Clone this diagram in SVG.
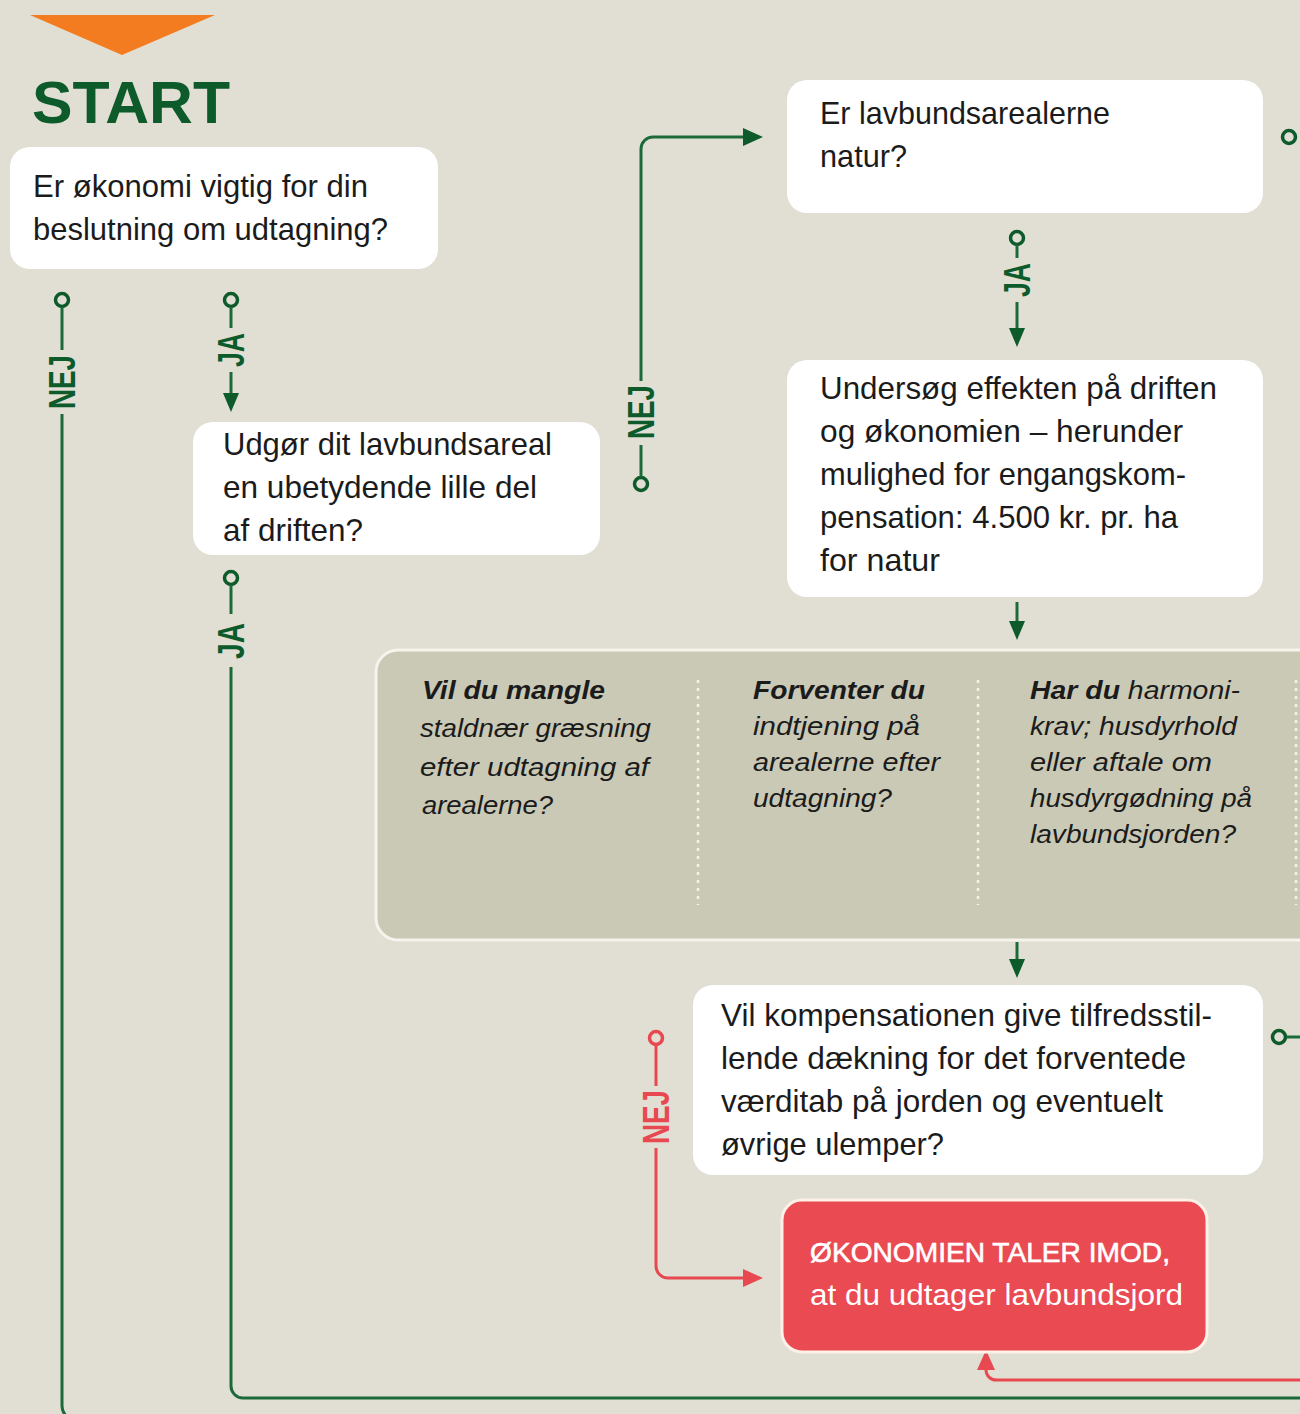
<svg xmlns="http://www.w3.org/2000/svg" width="1300" height="1414" viewBox="0 0 1300 1414">
<style>
.t{font-family:"Liberation Sans",Arial,sans-serif;font-size:32px;fill:#1b1b1b}
.g{font-family:"Liberation Sans",Arial,sans-serif;font-size:26px;font-style:italic;fill:#1b1b1b}
.b{font-weight:bold}
.lbl{font-family:"Liberation Sans",Arial,sans-serif;font-size:36px;font-weight:bold;fill:#0d5a2b}
.lblr{font-family:"Liberation Sans",Arial,sans-serif;font-size:36px;font-weight:bold;fill:#e84850}
.box{fill:#ffffff}
.ln{fill:none;stroke:#1c6a3a;stroke-width:3}
.lnr{fill:none;stroke:#e84850;stroke-width:3}
.dot{fill:#e1dfd3;stroke:#0d5a2b;stroke-width:3.5}
.dotr{fill:#e1dfd3;stroke:#e84850;stroke-width:3.5}
.ah{fill:#0d5a2b}
.ahr{fill:#e84850}
.div{stroke:#f4f2ea;stroke-width:2.5;stroke-dasharray:3 5}
</style>
<rect x="0" y="0" width="1300" height="1414" fill="#e1dfd3"/>

<g id="start">
<polygon points="30,15 215,15 122,55" fill="#f47c20"/>
<text x="32" y="123" font-family="Liberation Sans,Arial,sans-serif" font-size="60" font-weight="bold" fill="#0d5a2b" textLength="198" lengthAdjust="spacingAndGlyphs">START</text>
</g>

<g id="connectors">
<!-- NEJ left -->
<circle class="dot" cx="62" cy="300" r="6.5"/>
<path class="ln" d="M62,307 V350"/>
<path class="ln" d="M62,414 V1406 A14,14 0 0 0 76,1420 H1300"/>
<!-- JA to box2 -->
<circle class="dot" cx="231" cy="300" r="6.5"/>
<path class="ln" d="M231,307 V328"/>
<path class="ln" d="M231,372 V396"/>
<polygon class="ah" points="223,393 239,393 231,412"/>
<!-- JA from box2 down -->
<circle class="dot" cx="231" cy="578" r="6.5"/>
<path class="ln" d="M231,585 V614"/>
<path class="ln" d="M231,667 V1386 A12,12 0 0 0 243,1398 H1300"/>
<!-- NEJ from box2 to box3 -->
<circle class="dot" cx="641" cy="484" r="6.5"/>
<path class="ln" d="M641,477 V445"/>
<path class="ln" d="M641,381 V149 A12,12 0 0 1 653,137 H746"/>
<polygon class="ah" points="743,128 763,137 743,146"/>
<!-- right of box3 -->
<circle class="dot" cx="1289" cy="137" r="6.5"/>
<!-- JA from box3 -->
<circle class="dot" cx="1017" cy="238" r="6.5"/>
<path class="ln" d="M1017,245 V258"/>
<path class="ln" d="M1017,302 V331"/>
<polygon class="ah" points="1009,328 1025,328 1017,347"/>
<!-- box4 to grey -->
<path class="ln" d="M1017,602 V624"/>
<polygon class="ah" points="1009,621 1025,621 1017,640"/>
<!-- grey to box5 -->
<path class="ln" d="M1017,942 V962"/>
<polygon class="ah" points="1009,959 1025,959 1017,978"/>
<!-- right of box5 -->
<circle class="dot" cx="1279" cy="1037" r="6.5"/>
<path class="ln" d="M1286,1037 H1300"/>
<!-- red NEJ -->
<circle class="dotr" cx="656" cy="1038" r="6.5"/>
<path class="lnr" d="M656,1045 V1086"/>
<path class="lnr" d="M656,1148 V1266 A12,12 0 0 0 668,1278 H746"/>
<polygon class="ahr" points="743,1269 763,1278 743,1287"/>
<!-- red from right -->
<path class="lnr" d="M1300,1380 H996 A10,10 0 0 1 986,1370 V1366"/>
<polygon class="ahr" points="977,1370 986,1350 995,1370"/>

<text class="lbl" transform="translate(75,382) rotate(-90)" text-anchor="middle" textLength="54" lengthAdjust="spacingAndGlyphs">NEJ</text>
<text class="lbl" transform="translate(244,350) rotate(-90)" text-anchor="middle" textLength="34" lengthAdjust="spacingAndGlyphs">JA</text>
<text class="lbl" transform="translate(244,641) rotate(-90)" text-anchor="middle" textLength="36" lengthAdjust="spacingAndGlyphs">JA</text>
<text class="lbl" transform="translate(654,412) rotate(-90)" text-anchor="middle" textLength="54" lengthAdjust="spacingAndGlyphs">NEJ</text>
<text class="lbl" transform="translate(1030,280) rotate(-90)" text-anchor="middle" textLength="34" lengthAdjust="spacingAndGlyphs">JA</text>
<text class="lblr" transform="translate(669,1117) rotate(-90)" text-anchor="middle" textLength="54" lengthAdjust="spacingAndGlyphs">NEJ</text>
</g>

<g id="n1">
<rect class="box" x="10" y="147" width="428" height="122" rx="20"/>
<text class="t" x="33" y="197" textLength="335" lengthAdjust="spacingAndGlyphs">Er økonomi vigtig for din</text>
<text class="t" x="33" y="240" textLength="355" lengthAdjust="spacingAndGlyphs">beslutning om udtagning?</text>
</g>

<g id="n2">
<rect class="box" x="193" y="422" width="407" height="133" rx="20"/>
<text class="t" x="223" y="455" textLength="329" lengthAdjust="spacingAndGlyphs">Udgør dit lavbundsareal</text>
<text class="t" x="223" y="498" textLength="314" lengthAdjust="spacingAndGlyphs">en ubetydende lille del</text>
<text class="t" x="223" y="541" textLength="140" lengthAdjust="spacingAndGlyphs">af driften?</text>
</g>

<g id="n3">
<rect class="box" x="787" y="80" width="476" height="133" rx="20"/>
<text class="t" x="820" y="124" textLength="290" lengthAdjust="spacingAndGlyphs">Er lavbundsarealerne</text>
<text class="t" x="820" y="167" textLength="87" lengthAdjust="spacingAndGlyphs">natur?</text>
</g>

<g id="n4">
<rect class="box" x="787" y="360" width="476" height="237" rx="20"/>
<text class="t" x="820" y="399" textLength="397" lengthAdjust="spacingAndGlyphs">Undersøg effekten på driften</text>
<text class="t" x="820" y="442" textLength="363" lengthAdjust="spacingAndGlyphs">og  økonomien – herunder</text>
<text class="t" x="820" y="485" textLength="366" lengthAdjust="spacingAndGlyphs">mulighed for engangskom-</text>
<text class="t" x="820" y="528" textLength="358" lengthAdjust="spacingAndGlyphs">pensation: 4.500 kr. pr. ha</text>
<text class="t" x="820" y="571" textLength="120" lengthAdjust="spacingAndGlyphs">for natur</text>
</g>

<g id="n_grey">
<rect x="376" y="650" width="960" height="290" rx="22" fill="#c9c9b6" stroke="#f6f4ec" stroke-width="3"/>
<line class="div" x1="698" y1="680" x2="698" y2="905"/>
<line class="div" x1="978" y1="680" x2="978" y2="905"/>
<line class="div" x1="1296" y1="680" x2="1296" y2="905"/>
<text class="g b" x="422" y="699" textLength="183" lengthAdjust="spacingAndGlyphs">Vil du mangle</text>
<text class="g" x="420" y="737" textLength="231" lengthAdjust="spacingAndGlyphs">staldnær græsning</text>
<text class="g" x="420" y="776" textLength="229" lengthAdjust="spacingAndGlyphs">efter udtagning af</text>
<text class="g" x="422" y="814" textLength="131" lengthAdjust="spacingAndGlyphs">arealerne?</text>
<text class="g b" x="753" y="699" textLength="172" lengthAdjust="spacingAndGlyphs">Forventer du</text>
<text class="g" x="753" y="735" textLength="167" lengthAdjust="spacingAndGlyphs">indtjening på</text>
<text class="g" x="753" y="771" textLength="187" lengthAdjust="spacingAndGlyphs">arealerne efter</text>
<text class="g" x="753" y="807" textLength="139" lengthAdjust="spacingAndGlyphs">udtagning?</text>
<text class="g" x="1030" y="699" textLength="210" lengthAdjust="spacingAndGlyphs"><tspan font-weight="bold">Har du</tspan> harmoni-</text>
<text class="g" x="1030" y="735" textLength="207" lengthAdjust="spacingAndGlyphs">krav; husdyrhold</text>
<text class="g" x="1030" y="771" textLength="182" lengthAdjust="spacingAndGlyphs">eller aftale om</text>
<text class="g" x="1030" y="807" textLength="222" lengthAdjust="spacingAndGlyphs">husdyrgødning på</text>
<text class="g" x="1030" y="843" textLength="206" lengthAdjust="spacingAndGlyphs">lavbundsjorden?</text>
</g>

<g id="n5">
<rect class="box" x="693" y="985" width="570" height="190" rx="20"/>
<text class="t" x="721" y="1026" textLength="491" lengthAdjust="spacingAndGlyphs">Vil kompensationen give tilfredsstil-</text>
<text class="t" x="721" y="1069" textLength="465" lengthAdjust="spacingAndGlyphs">lende dækning for det forventede</text>
<text class="t" x="721" y="1112" textLength="442" lengthAdjust="spacingAndGlyphs">værditab på jorden og eventuelt</text>
<text class="t" x="721" y="1155" textLength="223" lengthAdjust="spacingAndGlyphs">øvrige ulemper?</text>
</g>

<g id="n_red">
<rect x="782" y="1200" width="425" height="152" rx="20" fill="#ea4a51" stroke="#fbf1e6" stroke-width="3"/>
<text x="810" y="1262" font-family="Liberation Sans,Arial,sans-serif" font-size="28" fill="#ffffff" stroke="#ffffff" stroke-width="0.6" textLength="360" lengthAdjust="spacingAndGlyphs">ØKONOMIEN TALER IMOD,</text>
<text x="810" y="1305" font-family="Liberation Sans,Arial,sans-serif" font-size="30" fill="#ffffff" textLength="373" lengthAdjust="spacingAndGlyphs">at du udtager lavbundsjord</text>
</g>
</svg>
